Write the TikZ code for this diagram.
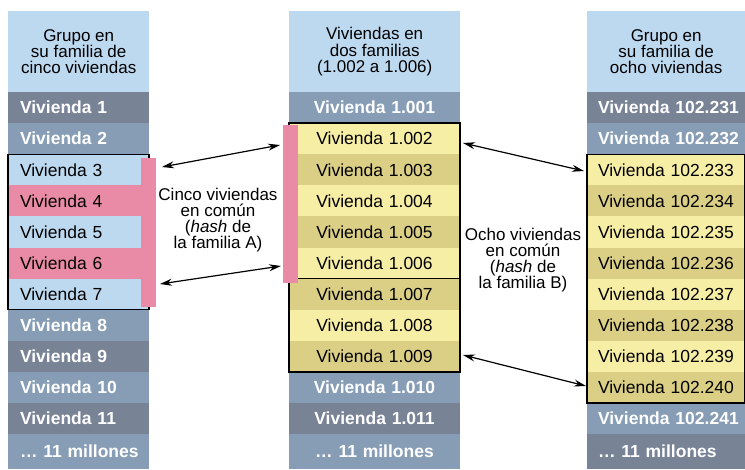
\documentclass[tikz,border=0pt]{standalone}
\usepackage{fontspec}
\setmainfont{Liberation Sans}
\usetikzlibrary{arrows.meta}
\definecolor{hdrblue}{HTML}{BDD9F0}
\definecolor{greydark}{HTML}{788396}
\definecolor{greylight}{HTML}{869DB5}
\definecolor{yellowlight}{HTML}{F7EEA5}
\definecolor{yellowdark}{HTML}{DBCF86}
\definecolor{familypink}{HTML}{E98AA6}
\tikzstyle{cell} = [anchor=north west, minimum height=31.1pt, inner ysep=0pt, outer sep=0pt,
    font=\fontsize{17.5}{20}\selectfont]
\tikzstyle{darkrow} = [cell, fill=greydark, text=white, font=\fontsize{17.5}{20}\selectfont\bfseries]
\tikzstyle{lightrow} = [cell, fill=greylight, text=white, font=\fontsize{17.5}{20}\selectfont\bfseries]
\tikzstyle{bluerow} = [cell, fill=hdrblue]
\tikzstyle{pinkrow} = [cell, fill=familypink]
\tikzstyle{yelrow} = [cell, fill=yellowlight]
\tikzstyle{ochrerow} = [cell, fill=yellowdark]
\tikzstyle{leftcol} = [text width=117pt, inner xsep=12pt, align=left]
\tikzstyle{midcol} = [text width=151pt, inner xsep=10pt, align=center]
\tikzstyle{rightcol} = [text width=136pt, inner xsep=11pt, align=left]
\tikzstyle{header} = [anchor=north west, fill=hdrblue, minimum height=81pt, inner sep=0pt,
    align=center, font=\fontsize{17}{16.2}\selectfont]
\tikzstyle{pinkbar} = [anchor=north west, fill=familypink, minimum width=15pt, inner sep=0pt]
\tikzstyle{famlabel} = [align=center, font=\fontsize{17}{16}\selectfont]
\tikzstyle{sharedbox} = [draw=black, line width=1.3pt]
\tikzstyle{famarrow} = [{Stealth[length=12pt,width=7pt]}-{Stealth[length=12pt,width=7pt]}, line width=1.2pt]

\begin{document}
\begin{tikzpicture}[x=1pt, y=-1pt]
                \useasboundingbox (0,0) rectangle (745,469);
                \node[header, minimum width=141pt] (headL) at (8,11) {Grupo en\\su familia de\\cinco viviendas};
                \node[header, minimum width=171pt] (headM) at (289,11) {Viviendas en\\dos familias\\(1.002 a 1.006)};
                \node[header, minimum width=158pt] (headR) at (587,11) {Grupo en\\su familia de\\ocho viviendas};
                \foreach \st/\lab [count=\k from 0] in {darkrow/Vivienda 1, lightrow/Vivienda 2, bluerow/Vivienda 3,
                    pinkrow/Vivienda 4, bluerow/Vivienda 5, pinkrow/Vivienda 6, bluerow/Vivienda 7, lightrow/Vivienda 8,
                    darkrow/Vivienda 9, lightrow/Vivienda 10, darkrow/Vivienda 11}
                    \node[\st, leftcol] (L\k) at (8,{92+31.1*\k}) {\mbox{\lab}};
                \foreach \st/\lab [count=\k from 0] in {lightrow/Vivienda 1.001, yelrow/Vivienda 1.002, ochrerow/Vivienda 1.003,
                    yelrow/Vivienda 1.004, ochrerow/Vivienda 1.005, yelrow/Vivienda 1.006, ochrerow/Vivienda 1.007,
                    yelrow/Vivienda 1.008, ochrerow/Vivienda 1.009, lightrow/Vivienda 1.010, darkrow/Vivienda 1.011}
                    \node[\st, midcol] (M\k) at (289,{92+31.1*\k}) {\mbox{\lab}};
                \foreach \st/\lab [count=\k from 0] in {darkrow/Vivienda 102.231, lightrow/Vivienda 102.232, yelrow/Vivienda 102.233,
                    ochrerow/Vivienda 102.234, yelrow/Vivienda 102.235, ochrerow/Vivienda 102.236, yelrow/Vivienda 102.237,
                    ochrerow/Vivienda 102.238, yelrow/Vivienda 102.239, ochrerow/Vivienda 102.240, lightrow/Vivienda 102.241}
                    \node[\st, rightcol] (R\k) at (587,{92+31.1*\k}) {\mbox{\lab}};
                \node[lightrow, leftcol, minimum height=35pt] (L11) at (8,434.1) {\mbox{… 11 millones}};
                \node[lightrow, midcol, minimum height=35pt] (M11) at (289,434.1) {\mbox{… 11 millones}};
                \node[darkrow, rightcol, minimum height=35pt] (R11) at (587,434.1) {\mbox{… 11 millones}};
                \draw[sharedbox] (L2.north west) rectangle (L6.south east);
                \draw[sharedbox] (M1.north west) rectangle (M8.south east);
                \draw[sharedbox] (M5.south west) -- (M5.south east);
                \draw[sharedbox] (R2.north west) rectangle (R9.south east);
                \node[pinkbar, minimum height=149pt] (barA) at (141,158) {};
                \node[pinkbar, minimum height=158pt] (barM) at (283,125) {};
                \node[famlabel] (textA) at (218,220) {Cinco viviendas\\en común\\(\textit{hash} de\\la familia A)};
                \node[famlabel] (textB) at (523,260) {Ocho viviendas\\en común\\(\textit{hash} de\\la familia B)};
                \coordinate (a1l) at (162,167);
                \coordinate (a1r) at (280,145);
                \coordinate (a2l) at (160,284);
                \coordinate (a2r) at (281,266);
                \coordinate (b1l) at (463,143);
                \coordinate (b1r) at (584,171);
                \coordinate (b2l) at (463,355);
                \coordinate (b2r) at (586,386);
                \draw[famarrow] (a1l) -- (a1r);
                \draw[famarrow] (a2l) -- (a2r);
                \draw[famarrow] (b1l) -- (b1r);
                \draw[famarrow] (b2l) -- (b2r);
\end{tikzpicture}
\end{document}
